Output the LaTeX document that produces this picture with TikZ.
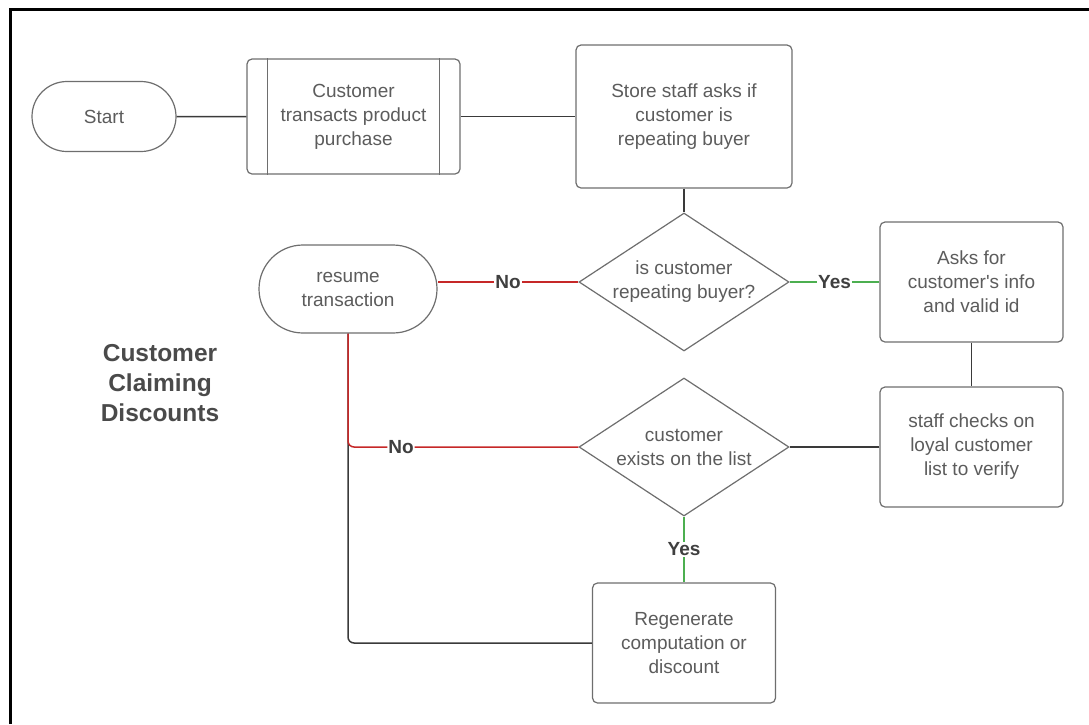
\documentclass[tikz,border=0pt]{standalone}
\usepackage{fontspec}
\setmainfont{Liberation Sans}
\usetikzlibrary{shapes.geometric,shapes.misc}
\definecolor{edgegray}{HTML}{6E6E6E}
\definecolor{ink}{HTML}{5C5C5C}
\definecolor{wiregray}{HTML}{3A3A3A}
\definecolor{nored}{HTML}{C62828}
\definecolor{yesgreen}{HTML}{4CAF50}
\definecolor{tagink}{HTML}{3F3F3F}
\definecolor{titleink}{HTML}{4A4A4A}

\begin{document}
\begin{tikzpicture}[x=1pt,y=-1pt,
  base/.style={draw=edgegray, line width=1.2pt, fill=white, text=ink, align=center,
               font=\fontsize{19}{24}\selectfont, inner sep=2pt},
  procbox/.style={base, rectangle, rounded corners=5pt},
  termbox/.style={base, rounded rectangle},
  decision/.style={draw=edgegray, line width=1.2pt, fill=white, diamond, inner sep=0pt,
                   minimum width=210pt, minimum height=138pt},
  dtext/.style={text=ink, align=center, font=\fontsize{19}{24}\selectfont, inner sep=0pt},
  wire/.style={draw=wiregray, line width=1.5pt},
  nowire/.style={draw=nored, line width=1.5pt},
  yeswire/.style={draw=yesgreen, line width=1.5pt},
  tag/.style={fill=white, text=tagink, font=\bfseries\fontsize{19}{22}\selectfont, inner sep=1pt}
]
\useasboundingbox (0,0) rectangle (1089,724);

% page frame (top and left edges)
\draw[line width=3pt, black] (10,724) -- (10,9) -- (1089,9);

% title
\node[font=\bfseries\fontsize{24.5}{30}\selectfont, text=titleink, align=center]
  (title) at (160,383) {Customer\\Claiming\\Discounts};

% top row
\node[termbox, minimum width=148pt, minimum height=70pt] (start) at (104,116.5) {Start};
\node[procbox, minimum width=213pt, minimum height=115pt] (proc) at (353.5,116.5)
  {Customer\\transacts product\\purchase};
\draw[edgegray, line width=1.2pt] ([xshift=21pt]proc.north west) -- ([xshift=21pt]proc.south west);
\draw[edgegray, line width=1.2pt] ([xshift=-21pt]proc.north east) -- ([xshift=-21pt]proc.south east);
\node[procbox, minimum width=216pt, minimum height=143pt] (ask) at (684,116.5)
  {Store staff asks if\\customer is\\repeating buyer};

% first decision row
\node[decision] (d1) at (684,282) {};
\node[dtext] (d1txt) at (d1) {is customer\\repeating buyer?};
\node[termbox, minimum width=182pt, minimum height=88pt] (resume) at (348,289)
  {resume\\transaction};
\node[procbox, minimum width=183pt, minimum height=120pt] (info) at (971.5,282)
  {Asks for\\customer\textquotesingle s info\\and valid id};

% second decision row
\node[procbox, minimum width=183pt, minimum height=120pt] (check) at (971.5,447)
  {staff checks on\\loyal customer\\list to verify};
\node[decision] (d2) at (684,447) {};
\node[dtext] (d2txt) at (d2) {customer\\exists on the list};

% result
\node[procbox, minimum width=183pt, minimum height=120pt] (regen) at (684,643)
  {Regenerate\\computation or\\discount};

% connectors
\draw[wire] (start) -- (proc);
\draw[wire] (proc) -- (ask);
\draw[wire] (ask.south) -- (d1.north);
\draw[wire] (info.south) -- (check.north);
\draw[wire] (check.west) -- (d2.east);
\draw[wire, rounded corners=6pt] (regen.west) -- (regen.west -| resume.south) -- (resume.south);

\draw[nowire] (d1.west) -- node[tag]{No} (d1.west -| resume.east);
\draw[yeswire] (d1.east) -- node[tag]{Yes} (info.west);
\draw[nowire, rounded corners=6pt] (d2.west) -- node[tag, pos=0.77]{No} (d2.west -| resume.south) -- (resume.south);
\draw[yeswire] (d2.south) -- node[tag]{Yes} (regen.north);
\end{tikzpicture}
\end{document}
